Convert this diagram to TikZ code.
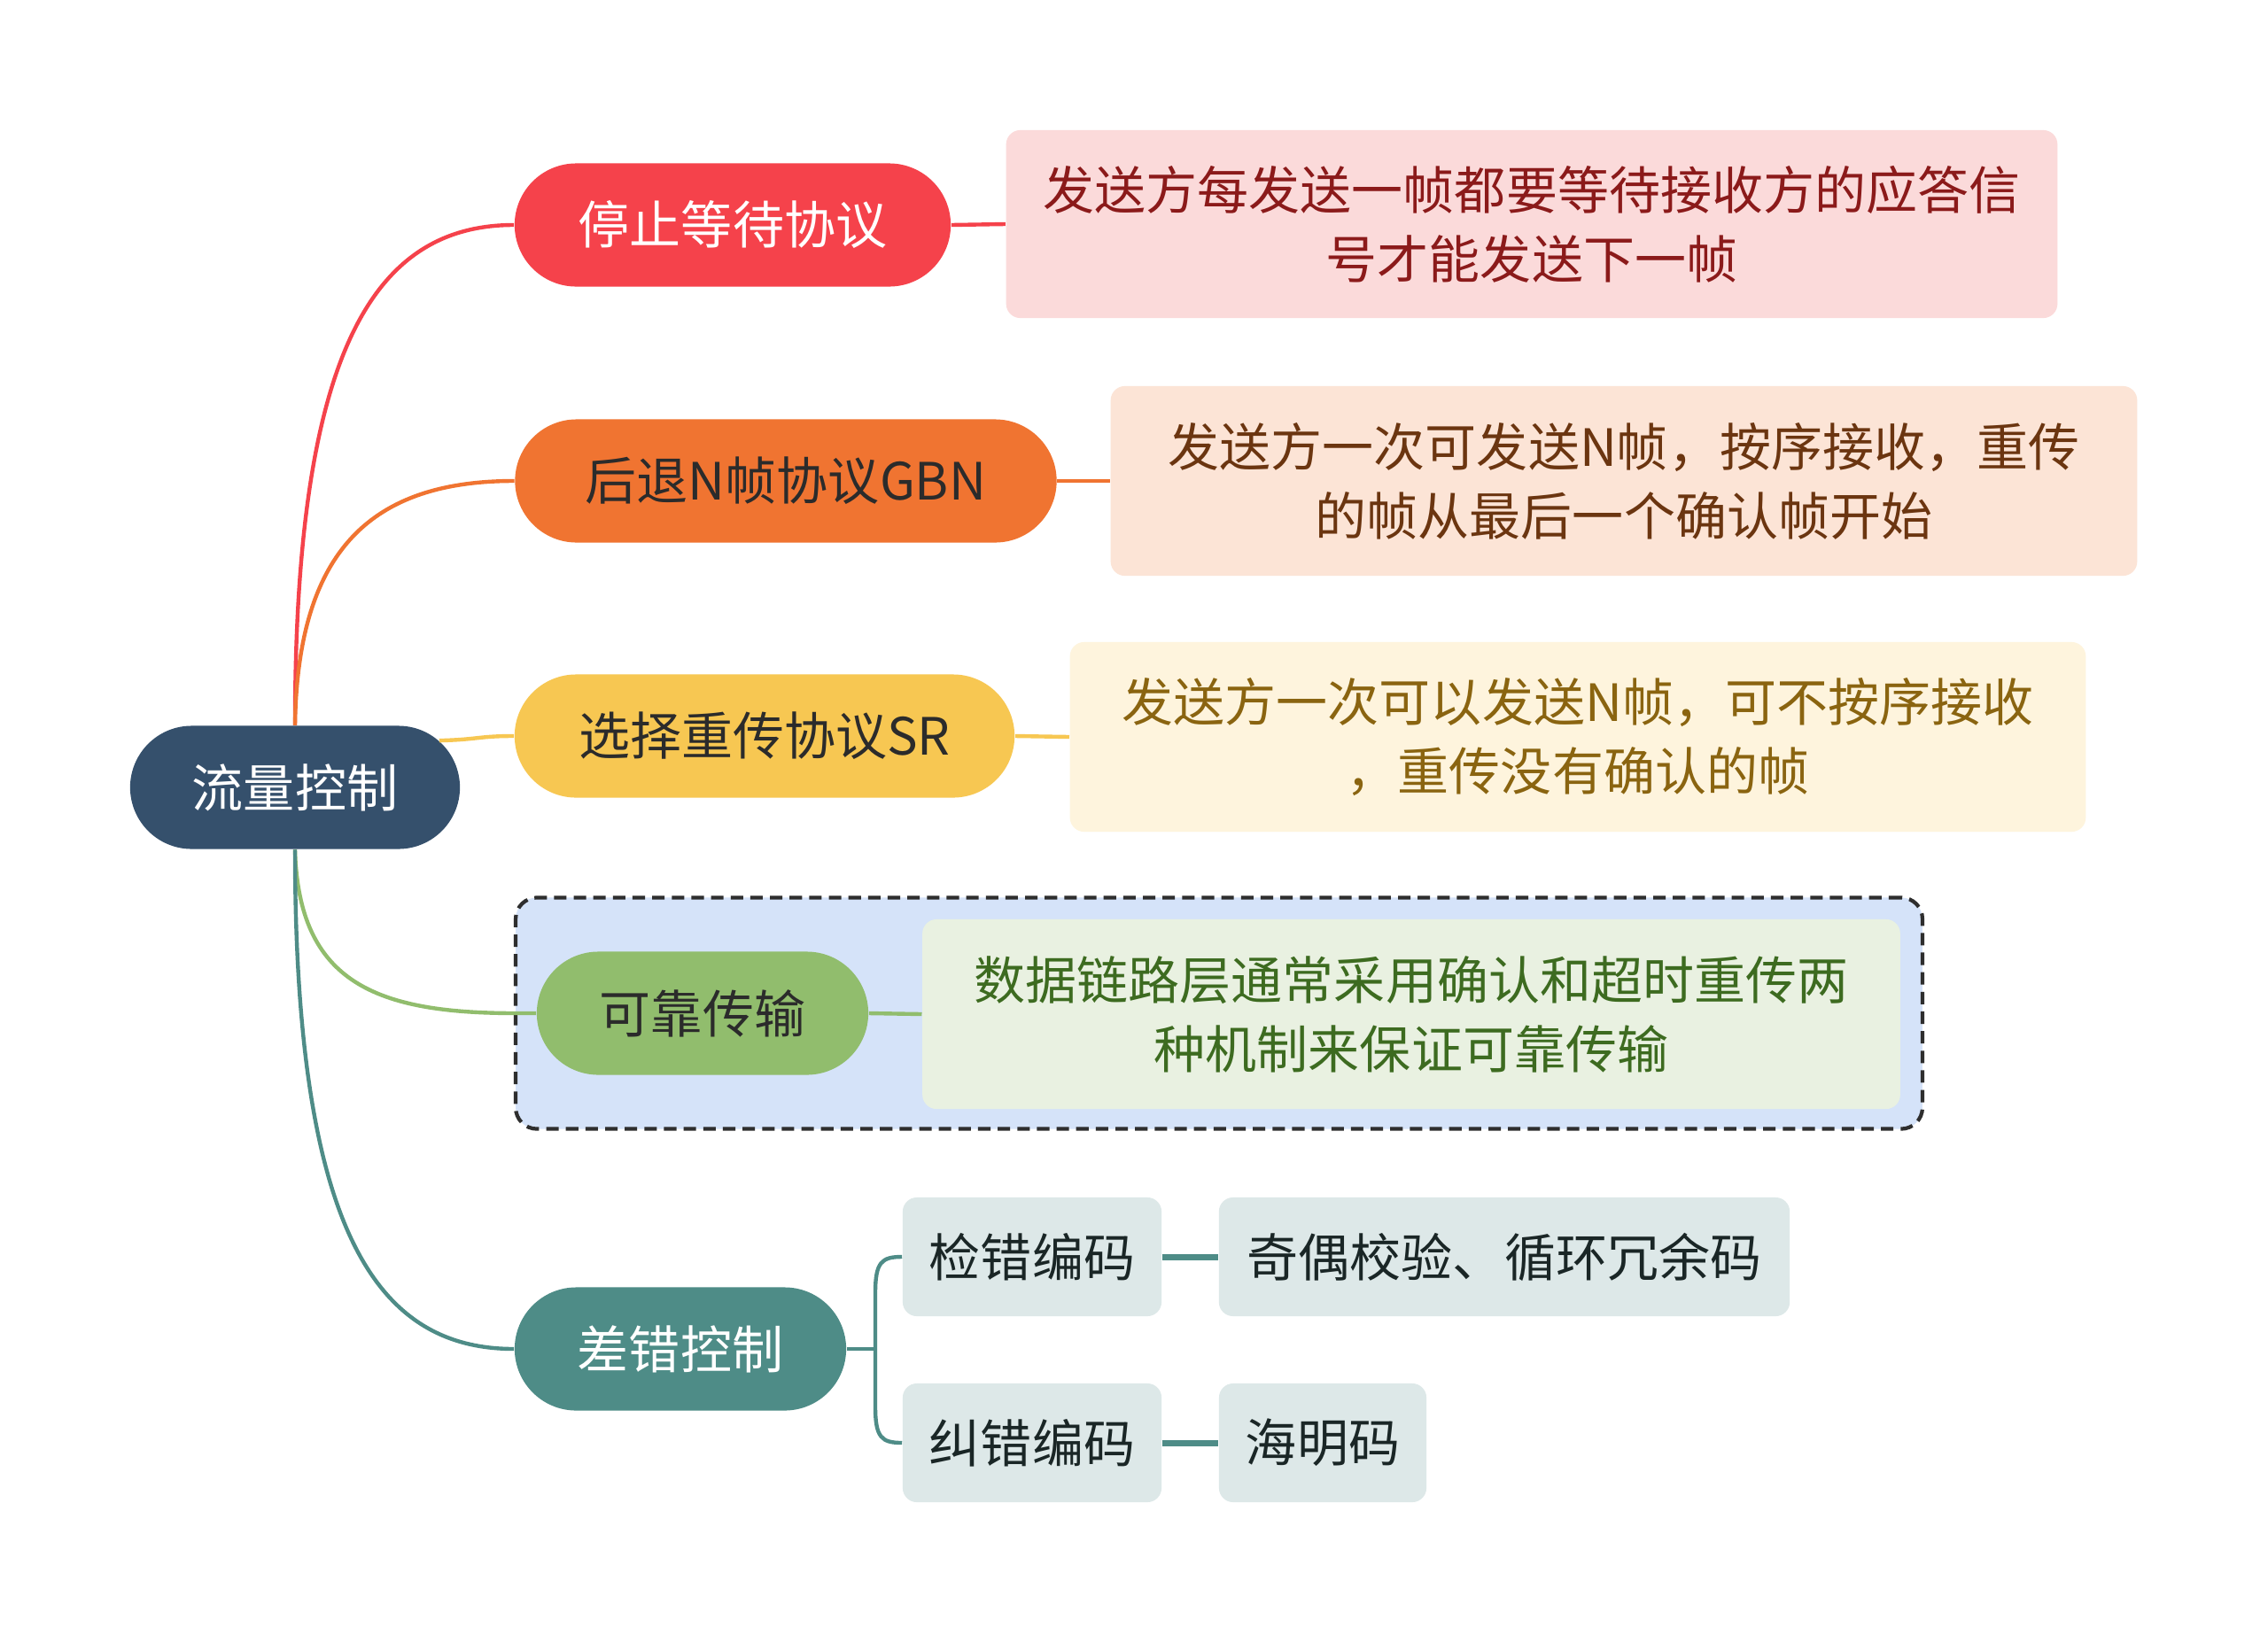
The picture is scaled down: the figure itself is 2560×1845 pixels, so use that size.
\documentclass[tikz,border=0pt]{standalone}
\usepackage{fontspec}
\setmainfont{Noto Sans CJK SC}
\usetikzlibrary{shapes.misc}
\definecolor{rootc}{HTML}{35506C}
\definecolor{redc}{HTML}{F5424B}
\definecolor{orangec}{HTML}{F07431}
\definecolor{yellowc}{HTML}{F7C752}
\definecolor{greenc}{HTML}{91BD6D}
\definecolor{tealc}{HTML}{4E8C87}
\definecolor{dredfill}{HTML}{FBDADA}
\definecolor{dredtext}{HTML}{8B1A1A}
\definecolor{dorfill}{HTML}{FCE4D6}
\definecolor{dortext}{HTML}{6B3510}
\definecolor{dyefill}{HTML}{FEF4DD}
\definecolor{dyetext}{HTML}{8A6410}
\definecolor{dgrfill}{HTML}{E9F1E1}
\definecolor{dgrtext}{HTML}{3D6B20}
\definecolor{grpfill}{HTML}{D5E3F9}
\definecolor{grpline}{HTML}{2E2E2E}
\definecolor{leaffill}{HTML}{DDE8E8}
\definecolor{leaftext}{HTML}{1A2626}
\definecolor{darktext}{HTML}{2B2B2B}
\tikzset{
  mainnode/.style={rounded rectangle, minimum height=1.39cm, inner sep=0pt, font=\fontsize{16.5}{20}\selectfont},
  descbox/.style={rectangle, rounded corners=0.16cm, minimum height=2.13cm, inner sep=0pt, align=center, font=\fontsize{16.5}{22.2}\selectfont},
  leafbox/.style={rectangle, rounded corners=0.16cm, minimum height=1.34cm, inner sep=0pt, fill=leaffill, text=leaftext, font=\fontsize{16.5}{20}\selectfont},
  conn/.style={line width=1.25pt},
}
\begin{document}
\begin{tikzpicture}[x=0.01cm,y=-0.01cm]
\useasboundingbox (0,0) rectangle (2560,1845);
\fill[white] (0,0) rectangle (2560,1845);

% group box
\node[draw=grpline, fill=grpfill, line width=1.2pt, dash pattern=on 4pt off 2.3pt, rounded corners=0.24cm,
      minimum width=15.87cm, minimum height=2.61cm, inner sep=0pt] (grp) at (1376,1144) {};

% nodes
\node[mainnode, fill=rootc, text=white, minimum width=3.72cm] (root) at (333,889) {流量控制};
\node[mainnode, fill=redc, text=white, minimum width=4.92cm] (n1) at (827,254) {停止等待协议};
\node[mainnode, fill=orangec, text=darktext, minimum width=6.11cm] (n2) at (887,543) {后退N帧协议GBN};
\node[mainnode, fill=yellowc, text=darktext, minimum width=5.64cm] (n3) at (863,831) {选择重传协议SR};
\node[mainnode, fill=greenc, text=darktext, minimum width=3.74cm] (n4) at (793,1144) {可靠传输};
\node[mainnode, fill=tealc, text=white, minimum width=3.74cm] (n5) at (768,1523) {差错控制};

\node[descbox, fill=dredfill, text=dredtext, minimum width=11.86cm, minimum height=2.12cm] (d1) at (1729,253)
  {发送方每发送一帧都要等待接收方的应答信\\号才能发送下一帧};
\node[descbox, fill=dorfill, text=dortext, minimum width=11.58cm, minimum height=2.14cm] (d2) at (1833,543)
  {发送方一次可发送N帧，按序接收，重传\\的帧从最后一个确认帧开始};
\node[descbox, fill=dyefill, text=dyetext, minimum width=11.46cm, minimum height=2.14cm] (d3) at (1781,832)
  {发送方一次可以发送N帧，可不按序接收\\，重传没有确认的帧};
\node[descbox, fill=dgrfill, text=dgrtext, minimum width=11.03cm, minimum height=2.14cm] (d4) at (1593,1145)
  {数据链路层通常采用确认和超时重传两\\种机制来保证可靠传输};

\node[leafbox, minimum width=2.92cm] (e1) at (1165,1419) {检错编码};
\node[leafbox, minimum width=6.44cm] (e2) at (1698,1419) {奇偶校验、循环冗余码};
\node[leafbox, minimum width=2.92cm] (e3) at (1165,1629) {纠错编码};
\node[leafbox, minimum width=2.34cm] (e4) at (1493,1629) {海明码};

% main connectors
\draw[conn, redc] (root.north) .. controls (333,400) and (420,254) .. (n1.west);
\draw[conn, orangec] (root.north) .. controls (336,620) and (420,543) .. (n2.west);
\draw[conn, yellowc] (root.18) .. controls (540,835) and (540,831) .. (n3.west);
\coordinate (g4) at (583,1144);
\draw[conn, greenc] (root.south) .. controls (337,1110) and (425,1144) .. (g4) -- (n4.west);
\draw[conn, tealc] (root.south) .. controls (333,1390) and (425,1523) .. (n5.west);

% short connectors
\draw[conn, redc] (n1.east) -- (d1.west);
\draw[conn, orangec] (n2.east) -- (d2.west);
\draw[conn, yellowc] (n3.east) -- (d3.west);
\draw[conn, greenc] (n4.east) -- (d4.west);

% bracket
\coordinate (br) at (988,1523);
\draw[conn, tealc] (n5.east) -- (br);
\draw[conn, tealc] (br) -- (988,1460) .. controls (988,1425) and (995,1419) .. (e1.west);
\draw[conn, tealc] (br) -- (988,1588) .. controls (988,1623) and (995,1629) .. (e3.west);
\draw[line width=2pt, tealc] (e1.east) -- (e2.west);
\draw[line width=2pt, tealc] (e3.east) -- (e4.west);
\end{tikzpicture}
\end{document}
